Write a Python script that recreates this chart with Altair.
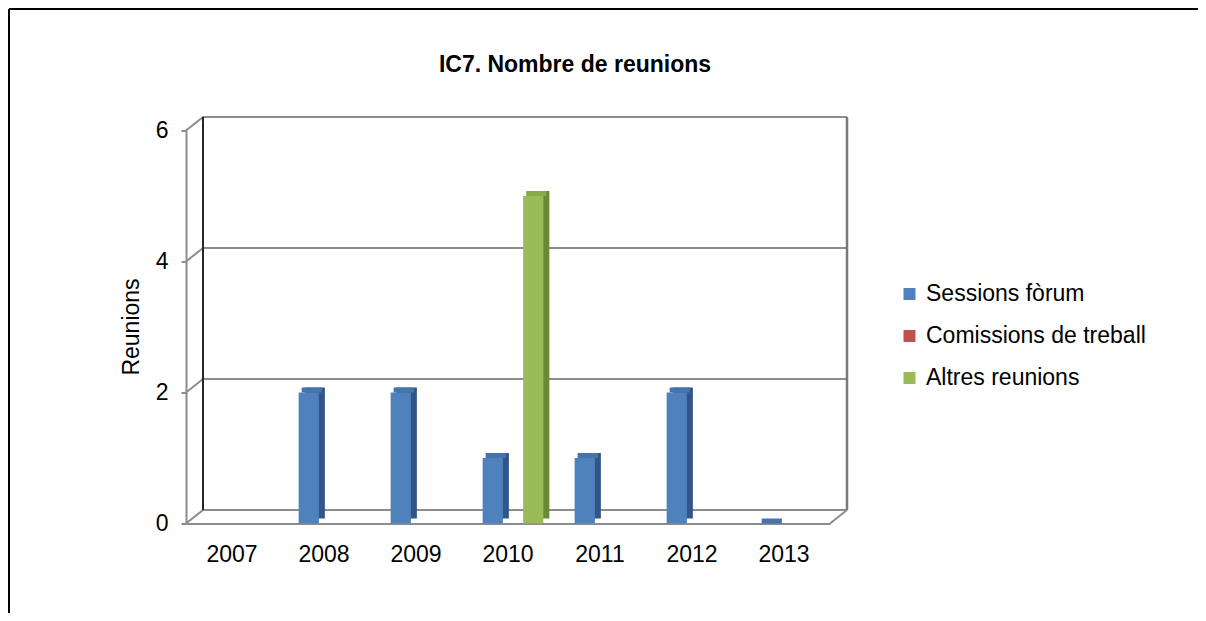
import altair as alt
import pandas as pd

# ---- data ----
years = ["2007", "2008", "2009", "2010", "2011", "2012", "2013"]
series = ["Sessions fòrum", "Comissions de treball", "Altres reunions"]
sessions_forum = [None, 2, 2, 1, 1, 2, 0]
comissions_treball = [None, None, None, None, None, None, None]
altres_reunions = [None, None, None, 5, None, None, None]
y_ticks = [0, 2, 4, 6]
title_text = "IC7. Nombre de reunions"
y_title = "Reunions"

# ---- styles ----
front_colors = ["#4F81BD", "#C0504D", "#9BBB59"]
side_colors = ["#2F5687", "#8C3836", "#6B8838"]
top_colors = ["#4674AA", "#A9463F", "#8AAA4A"]
FONT = "Liberation Sans"
GRID = "#8C8C8C"

rows = []
for s, vals in zip(series, [sessions_forum, comissions_treball, altres_reunions]):
    for yr, v in zip(years, vals):
        rows.append({"year": yr, "series": s, "value": v})
df = pd.DataFrame(rows)
df["value"] = pd.to_numeric(df["value"])
df["side"] = df["series"].map(dict(zip(series, side_colors)))
df["top"] = df["series"].map(dict(zip(series, top_colors)))

W, H = 644, 393
DX, DY = 17, -13.5

yscale = alt.Scale(domain=[0, 6], nice=False, zero=True)
y_axis = alt.Axis(title=None, values=y_ticks, tickSize=5, tickColor=GRID,
                  tickWidth=2, domainColor=GRID, domainWidth=2,
                  labelPadding=13, labelFont=FONT, labelFontSize=23,
                  labelColor="black", grid=False)


def x_band(shift, axis):
    return alt.X(
        "year:N", sort=years,
        scale=alt.Scale(domain=years, paddingInner=0.34, paddingOuter=0.17,
                        range=[shift, W + shift]),
        axis=axis,
    )


x_axis = alt.Axis(title=None, labelAngle=0, ticks=False, labelPadding=20,
                  domainColor=GRID, domainWidth=2, labelFont=FONT,
                  labelFontSize=23, labelColor="black", grid=False)
xoff = alt.XOffset("series:N", sort=series,
                   scale=alt.Scale(domain=series, paddingInner=0, paddingOuter=0))

ticks_df = pd.DataFrame({"value": y_ticks})
zero_df = pd.DataFrame({"value": [0]})
wall_df = pd.DataFrame({"top": [6], "bottom": [0]})

# back-wall gridlines
grid = alt.Chart(ticks_df).mark_rule(color=GRID, strokeWidth=2, yOffset=DY).encode(
    y=alt.Y("value:Q", scale=yscale, axis=y_axis),
    x=alt.value(DX), x2=alt.value(W + DX),
)
# diagonal connectors from front axis to back wall
diag = alt.Chart(ticks_df).mark_rule(color=GRID, strokeWidth=2, y2Offset=DY).encode(
    y=alt.Y("value:Q", scale=yscale, axis=y_axis), y2=alt.Y2("value"),
    x=alt.value(0), x2=alt.value(DX),
)
diag_r = alt.Chart(zero_df).mark_rule(color=GRID, strokeWidth=2, y2Offset=DY).encode(
    y=alt.Y("value:Q", scale=yscale, axis=y_axis), y2=alt.Y2("value"),
    x=alt.value(W), x2=alt.value(W + DX),
)
wall_l = alt.Chart(wall_df).mark_rule(color="#262626", strokeWidth=2, yOffset=DY, y2Offset=DY).encode(
    y=alt.Y("top:Q", scale=yscale, axis=y_axis), y2=alt.Y2("bottom"),
    x=alt.value(DX),
)
wall_r = alt.Chart(wall_df).mark_rule(color="#7A7A7A", strokeWidth=2.5, yOffset=DY, y2Offset=DY).encode(
    y=alt.Y("top:Q", scale=yscale, axis=y_axis), y2=alt.Y2("bottom"),
    x=alt.value(W + DX),
)

# layer that only carries the category axis
x_axis_layer = alt.Chart(pd.DataFrame({"year": years})).mark_tick(opacity=0).encode(
    x=x_band(0, x_axis)
)

base = alt.Chart(df)
bar_side = base.mark_bar(yOffset=-5, y2Offset=-5).encode(
    x=x_band(11, None), xOffset=xoff,
    y=alt.Y("value:Q", scale=yscale, axis=y_axis), y2=alt.datum(0),
    color=alt.Color("side:N", scale=None),
)
bar_top = base.mark_bar(yOffset=-5, y2Offset=0).encode(
    x=x_band(8, None), xOffset=xoff,
    y=alt.Y("value:Q", scale=yscale, axis=y_axis), y2=alt.Y2("value"),
    color=alt.Color("top:N", scale=None),
)
bar_front = base.mark_bar().encode(
    x=x_band(5, None), xOffset=xoff,
    y=alt.Y("value:Q", scale=yscale, axis=y_axis),
    color=alt.Color("series:N", sort=series,
                    scale=alt.Scale(domain=series, range=front_colors),
                    legend=alt.Legend(title=None, orient="none", legendX=712, legendY=152,
                                      symbolType="square", symbolSize=144,
                                      symbolStrokeWidth=0, labelFont=FONT,
                                      labelFontSize=23, labelColor="black",
                                      labelLimit=400, labelOffset=5, rowPadding=18)),
)

title = alt.Chart(pd.DataFrame({"t": [title_text]})).mark_text(
    font=FONT, fontSize=23, fontWeight="bold", align="center", baseline="alphabetic", color="black"
).encode(text="t:N", x=alt.value(389), y=alt.value(-58.5))

ytitle = alt.Chart(pd.DataFrame({"t": [y_title]})).mark_text(
    font=FONT, fontSize=23, angle=270, align="center", baseline="middle", color="black"
).encode(text="t:N", x=alt.value(-54), y=alt.value(196.5))

border_l = alt.Chart(zero_df).mark_rule(color="black", strokeWidth=2).encode(
    x=alt.value(-177), y=alt.value(-121.5), y2=alt.value(500)
)
border_t = alt.Chart(zero_df).mark_rule(color="black", strokeWidth=2).encode(
    x=alt.value(-177), x2=alt.value(1100), y=alt.value(-121.5)
)

chart = alt.layer(
    grid, diag, diag_r, wall_l, wall_r, x_axis_layer, bar_side, bar_top, bar_front,
    title, ytitle, border_l, border_t,
).resolve_scale(
    x="independent", xOffset="independent"
).properties(
    width=W, height=H,
    autosize=alt.AutoSizeParams(type="none"),
    padding={"left": 178, "top": 122.5, "right": 368, "bottom": 89.5},
    background="white",
).configure_view(stroke=None)

chart.save("out.html", embed_options={"renderer": "svg", "actions": False})
